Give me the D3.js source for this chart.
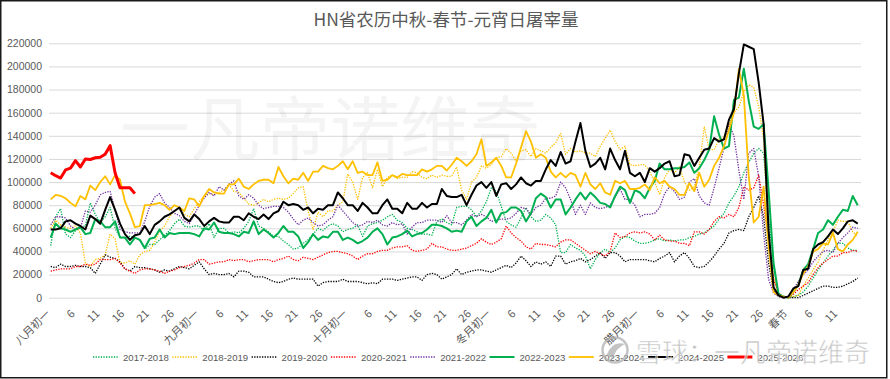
<!DOCTYPE html>
<html><head><meta charset="utf-8">
<script src="https://cdn.jsdelivr.net/npm/d3@7"></script>
<style>body{margin:0;background:#fff}svg{display:block}</style>
</head><body>
<svg id="chart" width="890" height="379"></svg>
<script>
// ---- data (values in thousands of head / day) ----
const UNIT = 1000;
const dayCount = 164; // 八月初一 … 正月十五
const tickIndex  = [0,5,10,15,20,25, 30,35,40,45,50,55, 60,65,70,75,80,85, 89,94,99,104,109,114, 119,124,129,134,139,144, 149,154,159];
const tickLabels = ["八月初一","6","11","16","21","26","九月初一","6","11","16","21","26","十月初一","6","11","16","21","26","冬月初一","6","11","16","21","26","腊月初一","6","11","16","21","26","春节","6","11"];
const yTicks = [0,20000,40000,60000,80000,100000,120000,140000,160000,180000,200000,220000];

const seriesNames = ["2017-2018","2018-2019","2019-2020","2020-2021","2021-2022","2022-2023","2023-2024","2024-2025","2025-2026"];

const s2017 = [45,70,77,55,52,58,61,62,82,72,65,70,78,60,52,52,53,52,50,42,46,46,50,54,58,
  64,68,62,61,62,62,58,64,52,60,60,56,57,56,60,66,77,62,60,57,53,53,49,46,42,
  43,47,50,55,60,58,62,64,62,57,59,60,63,53,62,64,65,67,70,72,67,65,60,
  59,57,55,55,54,66,68,65,63,78,79,79,76,70,75,83,95,92,79,66,63,61,69,78,
  70,66,67,72,69,63,39,39,46,43,41,36,25,33,39,42,39,43,50,53,52,49,47,47,48,
  50,51,49,50,49,50,50,52,53,55,56,59,62,68,73,82,88,96,108,117,125,129,125,
  70,27,4,1,0,1,2,5,10,17,24,30,36,41,47,47,43,41,41];
const s2018 = [60,67,63,61,60,62,56,30,27,33,34,37,55,51,30,30,32,29,37,40,41,48,58,62,70,
  75,78,72,70,77,83,88,90,89,91,93,98,92,91,86,81,80,82,85,83,85,86,85,86,
  90,95,96,75,59,74,70,75,75,80,83,107,100,85,104,108,95,111,96,104,106,103,104,104,
  109,108,104,103,106,104,106,105,105,113,93,85,100,104,114,112,115,121,122,129,125,118,127,128,
  122,129,127,125,130,134,142,124,129,126,127,125,
  125,122,131,138,145,135,128,131,115,114,115,115,109,
  100,89,104,111,108,113,100,93,96,113,148,128,128,137,139,150,160,165,178,184,182,165,137,50,18,3,1,0,1,2,10,17,24,31,41,50,57,67,66,66,57,53];
const s2019 = [27,26,29,27,27,28,27,27,26,21,29,37,35,34,31,25,23,27,26,26,25,24,22,24,23,
  25,27,26,25,28,31,25,20,21,20,20,21,18,23,23,22,18,18,18,16,14,13,14,16,
  17,16,16,16,16,10,13,14,14,14,16,14,14,14,13,12,13,12,16,16,16,15,16,17,
  18,18,15,20,21,20,16,18,20,25,20,22,23,24,24,23,22,24,26,28,26,30,36,32,
  27,31,29,31,27,36,36,29,31,32,34,31,33,36,39,34,39,39,36,31,33,33,33,33,32,
  31,34,36,39,31,36,39,34,27,26,27,31,36,42,47,56,58,59,58,70,
  78,88,70,30,6,1,1,0,0,0,2,4,6,8,10,10,9,9,10,12,14,17];
const s2020 = [23,24,25,25,25,27,27,29,28,29,33,33,33,34,30,25,23,21,24,25,25,24,23,21,23,
  24,26,27,28,30,33,33,29,30,31,31,33,32,33,33,31,32,33,33,33,31,33,34,36,
  33,32,35,34,33,35,37,39,40,40,39,38,36,33,36,38,38,40,41,41,43,44,44,45,
  41,40,41,42,47,44,44,42,41,41,42,43,45,47,51,48,46,48,51,62,56,52,49,44,
  42,47,46,46,45,44,48,50,50,47,44,41,38,40,38,36,40,56,52,53,56,57,56,57,55,
  50,54,50,49,49,47,47,45,57,57,55,59,66,70,69,72,70,78,96,93,
  95,106,80,50,16,4,1,0,3,7,10,13,20,26,30,33,36,36,39,39,41,40];
const s2021 = [63,70,70,69,62,59,60,75,74,80,89,91,92,76,59,57,56,56,56,66,79,87,90,82,78,73,71,66,64,72,80,86,91,88,96,93,98,101,88,85,89,86,80,77,78,79,79,78,74,68,63,
  67,69,65,62,63,67,70,80,75,70,65,62,63,66,65,67,63,62,65,63,64,55,
  61,65,65,67,67,67,65,71,65,65,63,67,72,70,72,70,66,67,68,68,69,73,78,77,
  72,78,80,86,86,88,100,95,85,72,80,72,82,78,77,78,80,87,94,85,85,80,70,72,72,
  73,78,90,96,92,85,87,100,103,88,82,80,95,112,130,150,140,110,85,125,129,105,55,16,4,1,0,1,7,14,20,24,31,36,40,41,39,47,52,56,61,60];
const s2022 = [52,64,60,59,57,59,61,55,56,68,66,61,61,66,52,52,46,52,50,43,51,52,59,52,56,
  55,56,56,56,55,53,60,59,65,57,56,56,55,53,57,56,66,55,59,56,52,56,62,57,
  57,53,43,48,55,50,53,52,57,57,50,52,50,47,49,52,57,60,55,46,52,53,55,58,
  53,55,56,59,63,63,62,60,57,58,57,66,70,62,66,69,76,65,73,74,78,78,75,66,
  73,86,90,87,78,85,85,72,78,85,91,85,91,87,82,81,78,88,96,93,82,93,91,86,95,
  101,116,111,111,112,112,113,117,108,112,119,
  128,157,141,129,131,171,173,198,170,148,146,150,93,30,3,1,0,5,11,24,29,42,56,59,67,63,70,76,75,88,80];
const s2023 = [85,89,88,86,82,79,88,85,97,93,100,105,98,106,102,83,73,61,62,80,80,81,82,80,76,80,78,75,86,85,79,88,94,91,90,90,98,98,103,96,94,98,101,102,102,99,113,105,99,103,102,
  108,101,109,109,114,112,111,114,118,111,118,108,109,106,106,117,101,102,106,104,
  107,106,106,106,111,109,111,114,114,110,115,121,118,114,118,124,137,114,117,121,
  114,104,104,116,130,144,135,121,124,121,109,104,108,104,108,106,96,108,98,94,
  99,91,89,101,99,101,94,94,95,98,93,104,99,101,96,94,89,89,99,92,
  108,96,102,114,121,131,145,160,198,175,105,65,70,96,45,5,2,1,0,5,
  11,21,27,40,42,47,46,56,42,40,46,50,57];
const s2024 = [59,59,60,66,67,64,62,59,71,68,64,76,87,76,64,55,50,54,55,62,55,63,66,70,72,
  75,78,69,66,72,68,62,66,69,66,65,65,70,70,67,73,70,68,72,68,73,75,83,80,
  81,80,76,78,73,77,76,80,80,91,86,80,80,75,82,78,73,73,80,85,77,77,73,82,
  77,77,82,78,81,81,94,88,87,87,89,80,89,97,100,95,100,88,98,99,94,98,104,99,
  97,101,101,111,119,114,126,116,118,135,151,127,113,116,121,111,129,119,111,127,108,105,108,100,112,
  109,112,116,118,105,106,124,123,114,121,128,129,138,135,137,154,163,194,219,
  217,215,186,150,58,9,2,0,1,8,10,24,25,42,46,48,53,59,55,60,66,67,64];
const s2025 = [108,105.5,103.5,110.5,112,118.5,113,120,119.5,121,121.5,124,131.5,108,95,95,95,90];

// ---- styling per series (not data) ----
const seriesData = [s2017,s2018,s2019,s2020,s2021,s2022,s2023,s2024,s2025];
const styles = [
  {c:"#00B050", w:1.3, dash:"1.3,1.3"},
  {c:"#FFC000", w:1.3, dash:"1.3,1.3"},
  {c:"#000000", w:1.3, dash:"1.3,1.3"},
  {c:"#FF0000", w:1.3, dash:"1.3,1.3"},
  {c:"#7030A0", w:1.3, dash:"1.3,1.3"},
  {c:"#00B050", w:2,   dash:null},
  {c:"#FFC000", w:1.8, dash:null},
  {c:"#000000", w:2,   dash:null},
  {c:"#FF0000", w:3,   dash:null}
];

const svg = d3.select("#chart");
const FONT = "'Liberation Sans','Noto Sans CJK SC',sans-serif";
const CJK = "'Noto Sans CJK SC','Noto Sans',sans-serif";
const gray = "#595959";

const x = d3.scaleLinear().domain([0, dayCount-1]).range([50.7, 857.7]);
const y = d3.scaleLinear().domain([0, 220000]).range([297.7, 43.3]);
const plotL = 49, plotR = 861;

// title
svg.append("text").attr("x",446).attr("y",18).attr("text-anchor","middle")
  .attr("dominant-baseline","central")
  .style("font-family",CJK).style("font-size","17.5px").style("fill",gray)
  .text("HN省农历中秋-春节-元宵日屠宰量");

// y axis + gridlines
const gy = svg.append("g").attr("transform",`translate(${plotL},0)`)
  .call(d3.axisLeft(y).tickValues(yTicks).tickSize(-(plotR-plotL)).tickPadding(7).tickFormat(d3.format("d")));
gy.select(".domain").remove();
gy.selectAll(".tick line").attr("stroke","#d9d9d9").attr("stroke-width",1);
gy.selectAll(".tick text").style("font-family",FONT).style("font-size","10.5px").style("fill",gray);

// x axis labels
const gx = svg.append("g").attr("transform",`translate(0,${y(0)})`)
  .call(d3.axisBottom(x).tickValues(tickIndex).tickSize(0).tickFormat((d,i)=>tickLabels[i]));
gx.select(".domain").remove();
gx.selectAll(".tick text")
  .attr("x",0).attr("y",0).attr("dy","0.35em")
  .attr("text-anchor","end")
  .attr("transform","translate(-3,14) rotate(-45)")
  .style("font-family",CJK).style("font-size","11px").style("fill",gray);

// faint watermark in plot
svg.append("text").attr("x",330).attr("y",124).attr("text-anchor","middle")
  .attr("dominant-baseline","central")
  .style("font-family",CJK).style("font-size","70px").style("fill","#000").style("fill-opacity",0.045)
  .text("一凡帝诺维奇");

// lines
const line = d3.line().x((d,i)=>x(i)).y(d=>y(d*UNIT));
const gl = svg.append("g");
seriesData.forEach((arr,k)=>{
  const st = styles[k];
  const p = gl.append("path").datum(arr).attr("d",line)
    .attr("fill","none").attr("stroke",st.c).attr("stroke-width",st.w)
    .attr("stroke-linejoin","round");
  if (st.dash) p.attr("stroke-dasharray",st.dash);
});

// legend
const lg = svg.append("g");
seriesNames.forEach((nm,k)=>{
  const st = styles[k];
  const x0 = 93 + k*79.3;
  const l = lg.append("line").attr("x1",x0).attr("x2",x0+25).attr("y1",357).attr("y2",357)
    .attr("stroke",st.c).attr("stroke-width",st.w);
  if (st.dash) l.attr("stroke-dasharray",st.dash);
  lg.append("text").attr("x",x0+30).attr("y",357).attr("dominant-baseline","central")
    .style("font-family",FONT).style("font-size","9.6px").style("fill",gray).text(nm);
});

// bottom-right watermark
const wm = svg.append("g").style("opacity",0.75);
wm.append("circle").attr("cx",615).attr("cy",350).attr("r",12.5)
  .attr("fill","none").attr("stroke","#b0b0b0").attr("stroke-width",2.5);
wm.append("path").attr("d","M606,356 Q612,340 625,344 Q616,348 613,358 Z").attr("fill","#b0b0b0");
wm.append("text").attr("x",636).attr("y",350).attr("dominant-baseline","central")
  .style("font-family",CJK).style("font-size","26px").style("fill","#b0b0b0")
  .style("stroke","#fff").style("stroke-width",0.6)
  .text("雪球：一凡帝诺维奇");

// outer border
svg.append("rect").attr("x",0.75).attr("y",0.75).attr("width",886).attr("height",377)
  .attr("fill","none").attr("stroke","#1a1a1a").attr("stroke-width",1.5);
</script>
</body></html>
